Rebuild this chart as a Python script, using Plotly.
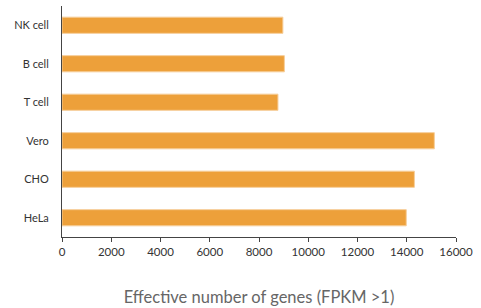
import plotly.graph_objects as go

cell_types = ["NK cell", "B cell", "T cell", "Vero", "CHO", "HeLa"]
gene_counts = [8970, 9030, 8770, 15120, 14310, 13980]
x_ticks = [0, 2000, 4000, 6000, 8000, 10000, 12000, 14000, 16000]

fig = go.Figure(go.Bar(
    x=gene_counts, y=cell_types, orientation="h",
    marker=dict(color="#EDA03A", line=dict(color="#F6CE9A", width=1)),
    width=0.42,
    hoverinfo="skip",
))

font_family = "Lato, 'Open Sans', sans-serif"
fig.update_layout(
    width=481, height=308,
    margin=dict(l=62, r=25, t=6, b=71, autoexpand=False),
    plot_bgcolor="white", paper_bgcolor="white",
    showlegend=False,
    font=dict(family=font_family, size=11, color="#333"),
    xaxis=dict(
        range=[0, 16000], tickvals=x_ticks, ticktext=[str(v) for v in x_ticks],
        showline=True, linecolor="#444", linewidth=1,
        ticks="outside", ticklen=4, tickcolor="#444",
        showgrid=False, zeroline=False, automargin=False,
        tickfont=dict(size=11.5, color="#333"),
        title=dict(text="Effective number of genes (FPKM >1)",
                   font=dict(size=16.5, color="#666"), standoff=34),
    ),
    yaxis=dict(
        categoryorder="array", categoryarray=cell_types, autorange="reversed",
        showline=True, linecolor="#444", linewidth=1,
        ticks="", showgrid=False, zeroline=False, automargin=False,
        ticklabelstandoff=10,
        tickfont=dict(size=11, color="#333"),
    ),
)

fig.write_html(
    "out.html",
    config={"displayModeBar": False, "staticPlot": True},
    post_script="document.body.style.margin='0';document.body.style.padding='0';",
)
